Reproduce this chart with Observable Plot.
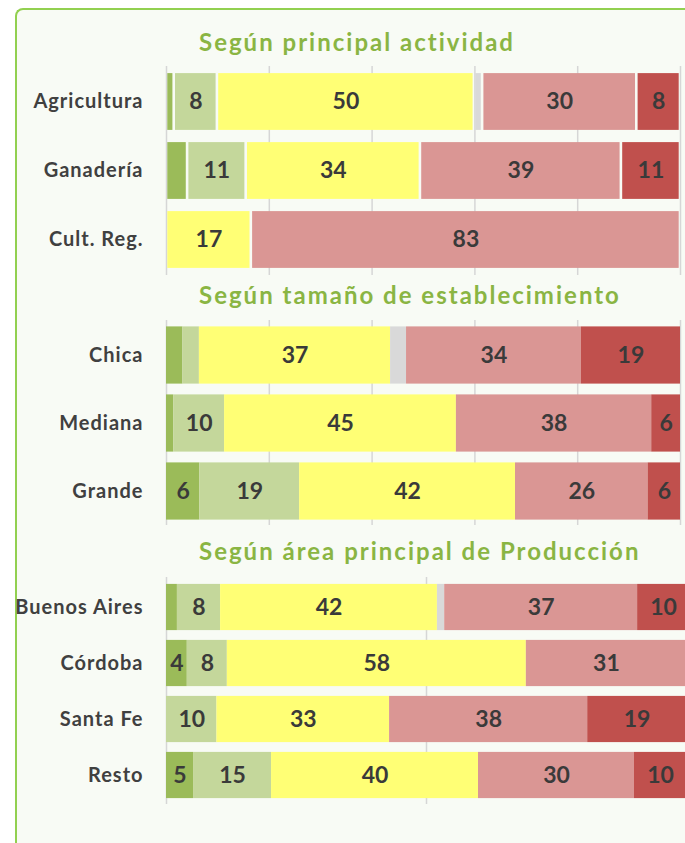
<!DOCTYPE html>
<html><head><meta charset="utf-8">
<script src="https://cdn.jsdelivr.net/npm/d3@7"></script>
<script src="https://cdn.jsdelivr.net/npm/@observablehq/plot@0.6"></script>
<style>
html,body{margin:0;padding:0;background:#fff;}
#page{position:relative;width:685px;height:843px;overflow:hidden;font-family:Lato,"Open Sans",sans-serif;}
#frame{position:absolute;left:15px;top:8px;width:700px;height:860px;border-left:2.5px solid #92d050;border-top:2.5px solid #92d050;border-top-left-radius:8px;background:#f8fbf5;box-sizing:border-box;}
.title{position:absolute;left:199px;color:#8ab543;font-weight:bold;font-size:24px;letter-spacing:2px;line-height:1;white-space:nowrap;}
.panel{position:absolute;left:0;}
.panel svg g[aria-label="y-axis tick label"] text{letter-spacing:1px;}
</style></head>
<body>
<div id="page"><div id="frame"></div></div>
<script>
// Series (segment order, left to right) and colours
const series = ["serie1", "serie2", "serie3", "serie4", "serie5", "serie6"];
const seriesColors = ["#9bbb59", "#c4d79b", "#ffff75", "#d9d9d9", "#da9694", "#c0504d"];

// Panel 1: Según principal actividad
const actividadTitle = "Según principal actividad";
const actividadCats = ["Agricultura", "Ganadería", "Cult. Reg."];
const actividadValues = [
  [1.5, 8.4, 50, 1.6, 30, 8.5],
  [4.1, 11.4, 33.9, 0, 39.1, 11.5],
  [0, 0, 16.5, 0, 83.5, 0]
];
const actividadLabels = [
  ["", "8", "50", "", "30", "8"],
  ["", "11", "34", "", "39", "11"],
  ["", "", "17", "", "83", ""]
];

// Panel 2: Según tamaño de establecimiento
const tamanoTitle = "Según tamaño de establecimiento";
const tamanoCats = ["Chica", "Mediana", "Grande"];
const tamanoValues = [
  [3.2, 3.2, 37.2, 3.1, 34, 19.3],
  [1.4, 9.9, 45.1, 0, 38, 5.6],
  [6.5, 19.4, 42, 0, 25.8, 6.3]
];
const tamanoLabels = [
  ["", "", "37", "", "34", "19"],
  ["", "10", "45", "", "38", "6"],
  ["6", "19", "42", "", "26", "6"]
];

// Panel 3: Según área principal de Producción
const areaTitle = "Según área principal de Producción";
const areaCats = ["Buenos Aires", "Córdoba", "Santa Fe", "Resto"];
const areaValues = [
  [2.1, 8.3, 41.7, 1.4, 37.1, 10],
  [4, 7.7, 57.5, 0, 30.8, 0],
  [0, 9.7, 33.2, 0, 38.1, 19],
  [5.2, 15, 39.8, 0, 30, 10]
];
const areaLabels = [
  ["", "8", "42", "", "37", "10"],
  ["4", "8", "58", "", "31", ""],
  ["", "10", "33", "", "38", "19"],
  ["5", "15", "40", "", "30", "10"]
];

const gridTicks1 = [0, 20, 40, 60, 80, 100];
const gridTicks3 = [0, 50, 100];

function toRows(cats, values, labels) {
  const rows = [];
  cats.forEach((c, i) => series.forEach((s, j) => {
    if (values[i][j] > 0) rows.push({cat: c, serie: s, value: values[i][j], label: labels[i][j]});
  }));
  return rows;
}

function panel({cats, values, labels, ticks, width, marginRight, height, inset, gap}) {
  const rows = toRows(cats, values, labels);
  return Plot.plot({
    width, height,
    marginLeft: 166, marginRight, marginTop: 0, marginBottom: 0,
    x: {domain: [0, 100], axis: null},
    y: {domain: cats, padding: 0, label: null},
    color: {domain: series, range: seriesColors},
    style: {background: "transparent", maxWidth: "none", overflow: "hidden", fontFamily: "Lato, 'Open Sans', sans-serif", fontWeight: "bold"},
    marks: [
      Plot.ruleX(ticks, {stroke: "#d6d6d6", strokeWidth: 1.5}),
      Plot.barX(rows, Plot.stackX({x: "value", y: "cat", fill: "serie", order: null,
        insetTop: inset, insetBottom: inset, insetLeft: gap, insetRight: gap})),
      Plot.text(rows, Plot.stackX({x: "value", y: "cat", text: "label", order: null,
        fill: "#3a3a3a", fontSize: 23, fontWeight: "bold"})),
      Plot.axisY({tickSize: 0, tickPadding: 23, fontSize: 20, color: "#404040", fontWeight: "bold", label: null})
    ]
  });
}

const page = document.getElementById("page");
function place(el, top) {
  const d = document.createElement("div");
  d.className = "panel";
  d.style.top = top + "px";
  d.appendChild(el);
  page.appendChild(d);
}
function title(text, top) {
  const t = document.createElement("div");
  t.className = "title";
  t.style.top = top + "px";
  t.textContent = text;
  page.appendChild(t);
}

title(actividadTitle, 30);
place(panel({cats: actividadCats, values: actividadValues, labels: actividadLabels, ticks: gridTicks1,
  width: 685, marginRight: 5, height: 209, inset: 6.1, gap: 1.3}), 66);

title(tamanoTitle, 283);
place(panel({cats: tamanoCats, values: tamanoValues, labels: tamanoLabels, ticks: gridTicks1,
  width: 685, marginRight: 5, height: 205, inset: 5.4, gap: 0}), 320);

title(areaTitle, 539);
place(panel({cats: areaCats, values: areaValues, labels: areaLabels, ticks: gridTicks3,
  width: 690, marginRight: 4, height: 227, inset: 4.9, gap: 0}), 577);
</script>
</body></html>
